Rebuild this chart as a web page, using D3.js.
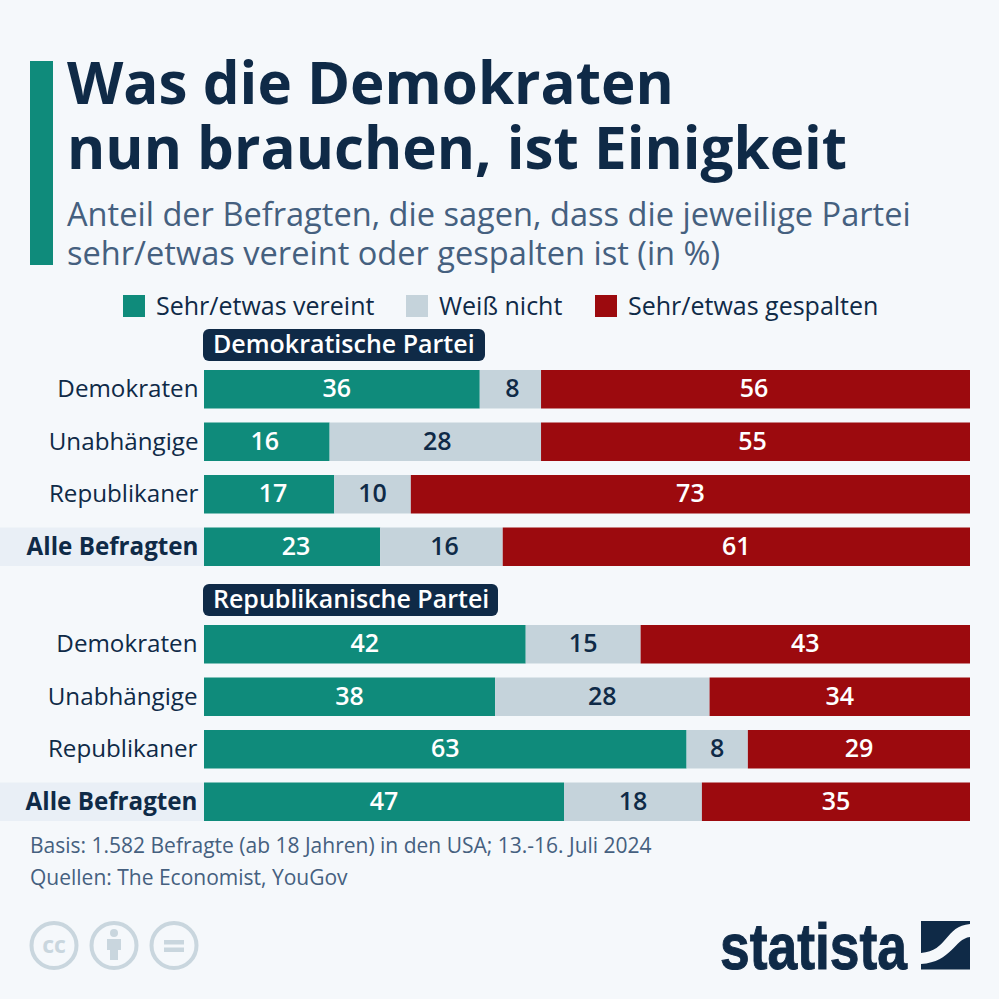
<!DOCTYPE html>
<html>
<head>
<meta charset="utf-8">
<script src="https://cdn.jsdelivr.net/npm/d3@7/dist/d3.min.js"></script>
<style>
html, body { margin: 0; padding: 0; background: #f5f8fb; }
svg { display: block; font-family: "Open Sans", sans-serif; }
</style>
</head>
<body>
<div class="container"></div>
<script>
const WIDTH = 999;
const HEIGHT = 999;
const BAR_LEFT = 204;
const BAR_RIGHT = 970;
const ROW_STEP = 52.5;
const BAR_HEIGHT = 38.5;
const NAVY = "#0f2a47";
const SLATE = "#45607f";

var titleLines = ["Was die Demokraten", "nun brauchen, ist Einigkeit"];
var subtitleLines = [
    "Anteil der Befragten, die sagen, dass die jeweilige Partei",
    "sehr/etwas vereint oder gespalten ist (in %)"
];
var footLines = [
    "Basis: 1.582 Befragte (ab 18 Jahren) in den USA; 13.-16. Juli 2024",
    "Quellen: The Economist, YouGov"
];

var seriesNames = ["Sehr/etwas vereint", "Weiß nicht", "Sehr/etwas gespalten"];
var seriesColors = ["#0f8b7b", "#c5d3db", "#9c0a0e"];
var labelColors = ["#ffffff", NAVY, "#ffffff"];
var rowNames = ["Demokraten", "Unabhängige", "Republikaner", "Alle Befragten"];

var demVereint = [36, 16.4, 17, 23];
var demWeiss = [8, 27.6, 10, 16];
var demGespalten = [56, 56, 73, 61];
// the printed figures are rounded, "Unabhängige" only adds up to 99
var demLabels = [[36, 8, 56], [16, 28, 55], [17, 10, 73], [23, 16, 61]];

var repVereint = [42, 38, 63, 47];
var repWeiss = [15, 28, 8, 18];
var repGespalten = [43, 34, 29, 35];
var repLabels = [[42, 15, 43], [38, 28, 34], [63, 8, 29], [47, 18, 35]];

// the upper block's figures sit a little off centre in the original
var demLabelShift = [[-5, 2, -1.5], [-2, 2, -3], [4, 0, 0], [4, 3, 0]];
var repLabelShift = [[0, 0, 0], [0, 0, 0], [0, 0, 0], [0, 0, 0]];

var xScale = d3.scaleLinear()
    .domain([0, 100])
    .range([BAR_LEFT, BAR_RIGHT]);

var translate = function (x, y) {
    return "translate(" + x + "," + y + ")";
};

var svg = d3.select(".container").append("svg")
    .attr("width", WIDTH)
    .attr("height", HEIGHT);

svg.append("rect").attr("width", WIDTH).attr("height", HEIGHT).attr("fill", "#f5f8fb");

// header
svg.append("rect")
    .attr("x", 30).attr("y", 61).attr("width", 23).attr("height", 204)
    .attr("fill", seriesColors[0]);

svg.selectAll(".title").data(titleLines).enter().append("text")
    .attr("class", "title")
    .attr("x", 67)
    .attr("y", function (d, i) { return 103.5 + i * 65; })
    .attr("font-size", 58.3)
    .attr("font-weight", 700)
    .attr("fill", NAVY)
    .text(function (d) { return d; });

svg.selectAll(".subtitle").data(subtitleLines).enter().append("text")
    .attr("class", "subtitle")
    .attr("x", 67)
    .attr("y", function (d, i) { return 226 + i * 39; })
    .attr("font-size", 32.6)
    .attr("fill", SLATE)
    .text(function (d) { return d; });

// legend
var legendSwatchX = [123, 406, 595];
var legend = svg.selectAll(".legend").data(seriesNames).enter().append("g")
    .attr("class", "legend")
    .attr("transform", function (d, i) { return translate(legendSwatchX[i], 295); });
legend.append("rect")
    .attr("width", 22).attr("height", 22)
    .attr("fill", function (d, i) { return seriesColors[i]; });
legend.append("text")
    .attr("x", 33).attr("y", 20)
    .attr("font-size", 25)
    .attr("fill", NAVY)
    .text(function (d) { return d; });

var drawBlock = function (conf) {
    var yScale = d3.scaleBand()
        .domain(rowNames)
        .range([conf.top, conf.top + 3 * ROW_STEP + BAR_HEIGHT])
        .paddingInner(1 - BAR_HEIGHT / ROW_STEP)
        .paddingOuter(0);

    var head = svg.append("g");
    head.append("rect")
        .attr("x", BAR_LEFT - 1).attr("y", conf.top - 41)
        .attr("width", conf.headWidth).attr("height", 32).attr("rx", 6)
        .attr("fill", NAVY);
    head.append("text")
        .attr("x", BAR_LEFT + 9).attr("y", conf.top - 17)
        .attr("font-size", 25).attr("font-weight", 600)
        .attr("fill", "#ffffff")
        .text(conf.head);

    // band behind the total row
    svg.append("rect")
        .attr("x", 0).attr("y", yScale("Alle Befragten"))
        .attr("width", BAR_LEFT).attr("height", yScale.bandwidth())
        .attr("fill", "#e9eff6");

    var rows = rowNames.map(function (name, i) {
        return {name: name, vereint: conf.vereint[i], weiss: conf.weiss[i], gespalten: conf.gespalten[i]};
    });
    var stacked = d3.stack().keys(["vereint", "weiss", "gespalten"])(rows);

    var layers = svg.append("g").selectAll("g").data(stacked).enter().append("g")
        .attr("fill", function (d, i) { return seriesColors[i]; });
    layers.selectAll("rect").data(function (d) { return d; }).enter().append("rect")
        .attr("x", function (d) { return xScale(d[0]); })
        .attr("y", function (d) { return yScale(d.data.name); })
        .attr("width", function (d) { return xScale(d[1]) - xScale(d[0]); })
        .attr("height", yScale.bandwidth());

    stacked.forEach(function (layer, s) {
        svg.append("g").selectAll("text").data(layer).enter().append("text")
            .attr("x", function (d, i) { return (xScale(d[0]) + xScale(d[1])) / 2 + conf.shift[i][s]; })
            .attr("y", function (d) { return yScale(d.data.name) + yScale.bandwidth() / 2 + 8; })
            .attr("text-anchor", "middle")
            .attr("font-size", 25)
            .attr("font-weight", 600)
            .attr("fill", labelColors[s])
            .text(function (d, i) { return conf.labels[i][s]; });
    });

    var axis = svg.append("g")
        .attr("transform", translate(conf.axisX, 0))
        .call(d3.axisLeft(yScale).tickSize(0).tickPadding(0));
    axis.select(".domain").remove();
    axis.selectAll("text")
        .attr("font-family", "'Open Sans', sans-serif")
        .attr("font-size", 24.2)
        .attr("fill", NAVY)
        .attr("font-weight", function (d) { return d === "Alle Befragten" ? 700 : 400; });
};

drawBlock({
    head: "Demokratische Partei", headWidth: 282, top: 370, axisX: 198.5,
    vereint: demVereint, weiss: demWeiss, gespalten: demGespalten, labels: demLabels, shift: demLabelShift
});
drawBlock({
    head: "Republikanische Partei", headWidth: 295, top: 625, axisX: 197.5,
    vereint: repVereint, weiss: repWeiss, gespalten: repGespalten, labels: repLabels, shift: repLabelShift
});

// footer
svg.selectAll(".foot").data(footLines).enter().append("text")
    .attr("class", "foot")
    .attr("x", 30)
    .attr("y", function (d, i) { return 853 + i * 32; })
    .attr("font-size", 21)
    .attr("fill", SLATE)
    .text(function (d) { return d; });

// licence icons
var iconColor = "#c9d6de";
[54, 114, 174].forEach(function (cx) {
    svg.append("circle")
        .attr("cx", cx).attr("cy", 945.5).attr("r", 22.5)
        .attr("fill", "none").attr("stroke", iconColor).attr("stroke-width", 4);
});
svg.append("text")
    .attr("x", 54).attr("y", 953).attr("text-anchor", "middle")
    .attr("font-size", 23).attr("font-weight", 700).attr("fill", iconColor)
    .text("cc");
svg.append("circle").attr("cx", 114).attr("cy", 933).attr("r", 4).attr("fill", iconColor);
svg.append("path")
    .attr("d", "M107 939H121V950H118V960H110V950H107Z")
    .attr("fill", iconColor);
svg.append("path")
    .attr("d", "M164 940H184V944.5H164ZM164 947.5H184V952H164Z")
    .attr("fill", iconColor);

// logo
svg.append("text")
    .attr("x", 720).attr("y", 969)
    .attr("font-family", "'Liberation Sans Narrow', sans-serif")
    .attr("font-weight", 700)
    .attr("font-size", 64)
    .attr("textLength", 187)
    .attr("lengthAdjust", "spacingAndGlyphs")
    .attr("stroke", NAVY).attr("stroke-width", 1)
    .attr("fill", NAVY)
    .text("statista");
svg.append("path")
    .attr("d", "M921 921H970V924C945 926 948 951 921 953Z")
    .attr("fill", NAVY);
svg.append("path")
    .attr("d", "M970 937C954 939 952 962 921 964V969.5H970Z")
    .attr("fill", NAVY);
</script>
</body>
</html>
